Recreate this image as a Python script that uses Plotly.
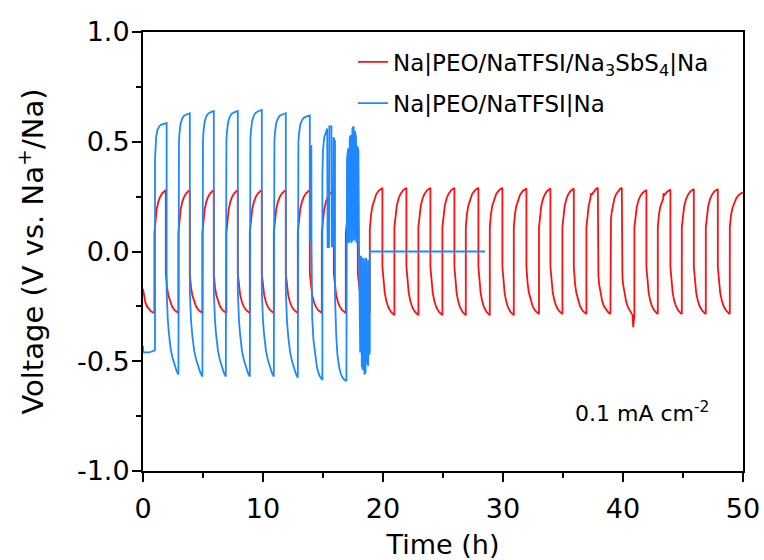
import plotly.graph_objects as go

# ---------------- data ----------------
# Red: Na|PEO/NaTFSI/Na3SbS4|Na  -- half-cycle boundaries (h), first half is negative
red_edges = [0.0, 0.95, 1.9, 2.95, 3.9, 4.95, 5.9, 6.95, 7.9, 8.9, 9.9, 10.9, 11.9, 12.9,
             13.9, 14.9, 15.9, 16.9, 17.9, 18.9, 19.95, 20.95, 21.95, 22.95, 23.95, 24.95,
             25.95, 26.9, 27.95, 28.9, 29.95, 30.9, 31.95, 33.0, 33.95, 34.95, 35.9, 36.95,
             37.9, 38.95, 39.9, 40.95, 41.95, 42.9, 43.95, 44.9, 45.9, 46.9, 47.9, 48.9, 50.0]
# voltage just after each jump (V)
red_start = [-0.17, 0.085, -0.10, 0.085, -0.10, 0.085, -0.10, 0.085, -0.10, 0.085,
             -0.10, 0.085, -0.10, 0.085, -0.10, 0.085, -0.10, 0.085, -0.10, 0.10,
             -0.07, 0.11, -0.07, 0.11, -0.07, 0.11, -0.07, 0.11, -0.07, 0.11,
             -0.07, 0.11, -0.07, 0.11, -0.07, 0.11, -0.07, 0.11, -0.07, 0.11,
             -0.07, 0.11, -0.07, 0.11, -0.07, 0.11, -0.07, 0.11, -0.07, 0.11]
# voltage at the end of each half (V)
red_end = [-0.28, 0.28, -0.28, 0.28, -0.28, 0.28, -0.28, 0.28, -0.28, 0.28,
           -0.28, 0.28, -0.28, 0.28, -0.28, 0.28, -0.28, 0.28, -0.28, 0.29,
           -0.29, 0.29, -0.29, 0.29, -0.29, 0.29, -0.29, 0.29, -0.29, 0.29,
           -0.29, 0.287, -0.285, 0.287, -0.285, 0.287, -0.285, 0.29, -0.285, 0.29,
           -0.29, 0.28, -0.285, 0.282, -0.285, 0.285, -0.285, 0.285, -0.285, 0.27]
# shape of one half (fraction of duration, fraction of the swing)
red_shape_f = [0.0, 0.05, 0.1, 0.2, 0.35, 0.5, 0.7, 0.85, 1.0]
red_shape_p = [0.0, 0.2, 0.36, 0.55, 0.73, 0.84, 0.93, 0.97, 1.0]
# small glitches
red_extra_t = [37.30, 37.32, 40.80, 40.85, 40.90, 43.35, 43.37]
red_extra_v = [0.245, 0.262, -0.29, -0.345, -0.30, 0.24, 0.265]

# Blue: Na|PEO/NaTFSI|Na
blue_head_t = [0.0, 0.03, 0.5, 1.0]
blue_head_v = [-0.43, -0.46, -0.46, -0.45]
blue_edges = [1.0, 1.97, 2.95, 3.9, 4.95, 5.9, 6.9, 7.9, 8.9, 9.9, 10.9, 11.9, 12.9, 13.9]
blue_start = [0.42, -0.18, 0.40, -0.18, 0.40, -0.18, 0.40, -0.18, 0.40, -0.18, 0.40, -0.18, 0.40]
blue_end = [0.585, -0.56, 0.63, -0.57, 0.64, -0.57, 0.64, -0.57, 0.645, -0.57, 0.63, -0.575, 0.62]
blue_rise_f = [0.0, 0.05, 0.1, 0.2, 0.35, 0.5, 0.75, 1.0]
blue_rise_p = [0.0, 0.45, 0.62, 0.8, 0.9, 0.95, 0.98, 1.0]
blue_fall_f = [0.0, 0.05, 0.1, 0.2, 0.35, 0.5, 0.7, 0.85, 1.0]
blue_fall_p = [0.0, 0.2, 0.35, 0.52, 0.7, 0.8, 0.9, 0.96, 1.0]
blue_tail_t = [13.9, 13.97, 13.98, 14.03, 14.04, 14.06, 14.1, 14.2, 14.35, 14.5, 14.7, 14.95,
               14.95, 15.0, 15.1, 15.35, 15.38, 15.5, 15.53, 15.7, 15.73, 15.85, 15.88, 16.0,
               16.0, 16.05, 16.1, 16.2, 16.35, 16.5, 16.7, 16.95,
               16.95, 17.0, 17.1, 17.13, 17.2, 17.23, 17.33, 17.36, 17.42, 17.45, 17.55, 17.58,
               17.63, 17.66, 17.75, 17.78, 17.83, 17.86, 17.95, 18.0,
               18.03, 18.1, 18.13, 18.2, 18.23, 18.33, 18.36, 18.42, 18.45, 18.55, 18.58, 18.64,
               18.67, 18.77, 18.8, 18.84, 18.87, 18.9, 18.9, 28.5]
blue_tail_v = [0.05, 0.05, 0.48, 0.48, 0.05, -0.2, -0.3, -0.4, -0.48, -0.53, -0.565, -0.585,
               0.35, 0.46, 0.52, 0.56, 0.02, 0.02, 0.57, 0.57, 0.02, 0.03, 0.52, 0.5,
               -0.2, -0.3, -0.38, -0.47, -0.53, -0.56, -0.58, -0.59,
               0.3, 0.42, 0.47, 0.04, 0.05, 0.52, 0.53, 0.04, 0.05, 0.56, 0.57, 0.05,
               0.06, 0.55, 0.52, 0.04, 0.05, 0.48, 0.46, 0.04,
               -0.35, -0.46, -0.02, -0.03, -0.52, -0.54, -0.03, -0.04, -0.56, -0.55, -0.03, -0.04,
               -0.5, -0.52, -0.04, -0.05, -0.47, -0.45, 0.0, 0.0]

x_ticks = [0, 10, 20, 30, 40, 50]
y_ticks = [-1.0, -0.5, 0.0, 0.5, 1.0]
y_ticktext = ["-1.0", "-0.5", "0.0", "0.5", "1.0"]

names = ["Na|PEO/NaTFSI/Na<sub>3</sub>SbS<sub>4</sub>|Na", "Na|PEO/NaTFSI|Na"]
colors = ["#FF1010", "#1E88FF"]


def build(edges, starts, ends, shapes):
    xs, ys = [], []
    for i in range(len(edges) - 1):
        t0, t1 = edges[i], edges[i + 1]
        sf, sp = shapes(i, starts[i], ends[i])
        for f, p in zip(sf, sp):
            xs.append(t0 + f * (t1 - t0))
            ys.append(starts[i] + p * (ends[i] - starts[i]))
    return xs, ys


rx, ry = build(red_edges, red_start, red_end, lambda i, s, e: (red_shape_f, red_shape_p))
# insert glitches in time order (inside halves)
for t, v in zip(red_extra_t, red_extra_v):
    k = 0
    while k < len(rx) and rx[k] < t:
        k += 1
    rx.insert(k, t)
    ry.insert(k, v)

bx, by = build(blue_edges, blue_start, blue_end,
               lambda i, s, e: (blue_rise_f, blue_rise_p) if e > 0 else (blue_fall_f, blue_fall_p))
bx = blue_head_t + bx + blue_tail_t
by = blue_head_v + by + blue_tail_v

FONT = "DejaVu Sans"
fig = go.Figure()
fig.add_trace(go.Scatter(x=rx, y=ry, mode="lines", name=names[0],
                         line=dict(color=colors[0], width=1.8), legend="legend"))
fig.add_trace(go.Scatter(x=bx, y=by, mode="lines", name=names[1],
                         line=dict(color=colors[1], width=1.8), legend="legend2"))

axis_common = dict(showline=True, linecolor="black", linewidth=2, mirror=True,
                   ticks="outside", ticklen=9, tickwidth=2, tickcolor="black",
                   showgrid=False, zeroline=False, automargin=False,
                   tickfont=dict(family=FONT, size=27, color="black"))
fig.update_xaxes(range=[0, 50], tickvals=x_ticks, ticklabelstandoff=4,
                 minor=dict(ticks="outside", ticklen=5, tickwidth=2, tickcolor="black", dtick=5),
                 title=dict(text="Time (h)", font=dict(family=FONT, size=27, color="black"), standoff=12),
                 **axis_common)
fig.update_yaxes(range=[-1, 1], tickvals=y_ticks, ticktext=y_ticktext, ticklabelstandoff=-3,
                 minor=dict(ticks="outside", ticklen=5, tickwidth=2, tickcolor="black", dtick=0.25),
                 title=dict(text="Voltage (V vs. Na<sup>+</sup>/Na)",
                            font=dict(family=FONT, size=29, color="black"), standoff=25),
                 **axis_common)

leg_common = dict(bgcolor="rgba(0,0,0,0)", borderwidth=0, xanchor="left", yanchor="middle",
                  font=dict(family=FONT, size=23, color="black"))
fig.update_layout(
    width=764, height=560,
    margin=dict(l=143, r=21, t=32, b=89, autoexpand=False),
    paper_bgcolor="white", plot_bgcolor="white",
    showlegend=True,
    legend=dict(x=0.35, y=0.932, **leg_common),
    legend2=dict(x=0.35, y=0.838, **leg_common),
    annotations=[dict(text="0.1 mA cm<sup>-2</sup>", x=0.832, y=0.134, xref="paper", yref="paper",
                      xanchor="center", yanchor="middle", showarrow=False,
                      font=dict(family=FONT, size=22, color="black"))],
)
fig.write_html("out.html")
